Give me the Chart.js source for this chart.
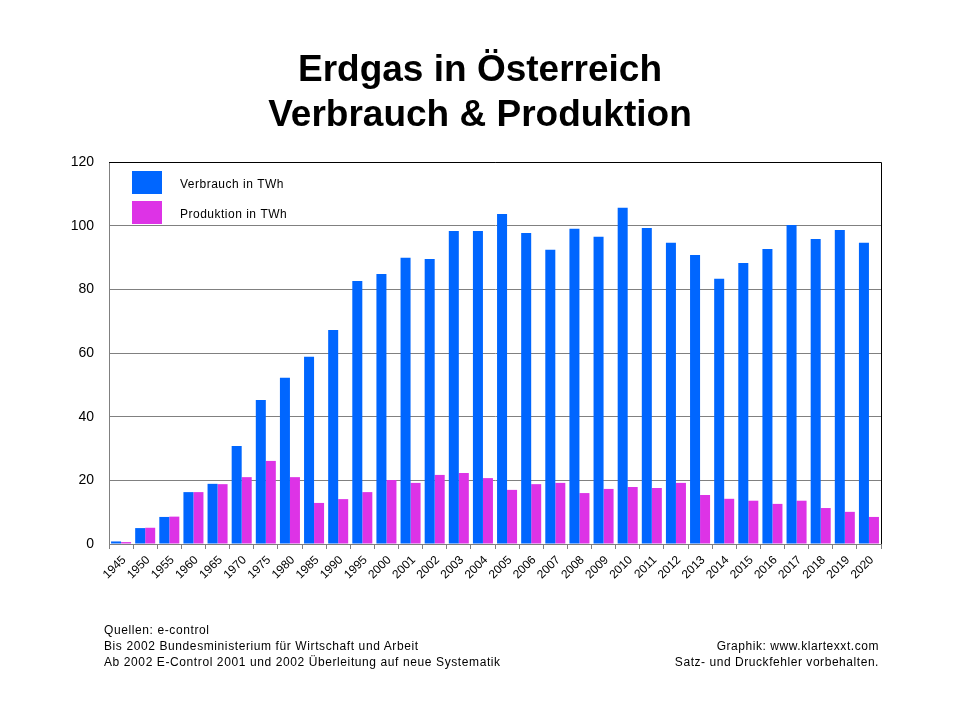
<!DOCTYPE html>
<html>
<head>
<meta charset="utf-8">
<script src="https://cdn.jsdelivr.net/npm/chart.js@4/dist/chart.umd.min.js"></script>
<style>
  html,body{margin:0;padding:0;background:#fff;}
  #wrap{position:relative;width:960px;height:720px;font-family:"Liberation Sans",Arial,sans-serif;}
  #c{position:absolute;left:0;top:0;}
  .title{position:absolute;left:0;width:960px;text-align:center;font-weight:bold;font-size:37px;color:#000;}
  .foot{position:absolute;font-size:12px;color:#000;line-height:16px;}
</style>
</head>
<body>
<div id="wrap">
  <canvas id="c" width="960" height="720"></canvas>
  <div class="title" style="top:48px;">Erdgas in Österreich</div>
  <div class="title" style="top:93px;">Verbrauch &amp; Produktion</div>
  <div class="foot" style="left:104px;top:622px;letter-spacing:0.6px;">Quellen: e-control<br>Bis 2002 Bundesministerium für Wirtschaft und Arbeit<br>Ab 2002 E-Control 2001 und 2002 Überleitung auf neue Systematik</div>
  <div class="foot" style="right:81px;top:638px;text-align:right;letter-spacing:0.55px;">Graphik: www.klartexxt.com<br>Satz- und Druckfehler vorbehalten.</div>
</div>
<script>
const years = ["1945","1950","1955","1960","1965","1970","1975","1980","1985","1990","1995","2000","2001","2002","2003","2004","2005","2006","2007","2008","2009","2010","2011","2012","2013","2014","2015","2016","2017","2018","2019","2020"];
const verbrauch = [0.8,5.0,8.5,16.3,18.9,30.8,45.2,52.2,58.8,67.2,82.6,84.8,89.9,89.5,98.3,98.3,103.7,97.7,92.4,99.0,96.5,105.6,99.3,94.6,90.8,83.3,88.3,92.7,100.2,95.8,98.6,94.6];
const produktion = [0.6,5.1,8.6,16.3,18.8,21.0,26.1,21.0,12.9,14.1,16.3,20.1,19.2,21.7,22.3,20.7,17.0,18.8,19.2,16.0,17.3,17.9,17.6,19.2,15.4,14.2,13.6,12.6,13.6,11.3,10.1,8.5];
const seriesLabels = ["Verbrauch in TWh","Produktion in TWh"];
const yTicks = [0,20,40,60,80,100,120];

const frameAndLegend = {
  id:'frameAndLegend',
  afterDraw(chart){
    const ctx = chart.ctx, a = chart.chartArea;
    ctx.save();
    ctx.strokeStyle = '#000'; ctx.lineWidth = 1;
    ctx.beginPath();
    ctx.moveTo(a.left, a.top+0.5); ctx.lineTo(a.right+0.5, a.top+0.5);
    ctx.lineTo(a.right+0.5, a.bottom);
    ctx.stroke();
    // legend
    chart.data.datasets.forEach((ds,i)=>{
      const y = a.top + 9 + i*30;
      ctx.fillStyle = ds.backgroundColor;
      ctx.fillRect(a.left+23, y, 30, 23);
      ctx.fillStyle = '#000';
      ctx.font = '12px "Liberation Sans", Arial, sans-serif';
      if ('letterSpacing' in ctx) ctx.letterSpacing = '0.5px';
      ctx.textBaseline = 'middle';
      ctx.fillText(ds.label, a.left+71, y+14);
    });
    ctx.restore();
  }
};

new Chart(document.getElementById('c'), {
  type:'bar',
  data:{
    labels: years,
    datasets:[
      {label:seriesLabels[0], data:verbrauch, backgroundColor:'#0066ff', barPercentage:1.0, categoryPercentage:0.83},
      {label:seriesLabels[1], data:produktion, backgroundColor:'#dd33e6', barPercentage:1.0, categoryPercentage:0.83}
    ]
  },
  options:{
    responsive:false,
    animation:false,
    layout:{padding:{left:0,right:79,top:162,bottom:0}},
    plugins:{legend:{display:false}, title:{display:false}, tooltip:{enabled:false}},
    scales:{
      x:{
        grid:{display:true, drawOnChartArea:false, drawTicks:true, tickLength:5, color:'#808080', offset:true},
        border:{color:'#808080'},
        ticks:{color:'#000', font:{family:'"Liberation Sans", Arial, sans-serif', size:12}, maxRotation:45, minRotation:45, autoSkip:false, padding:4, labelOffset:3},
        afterFit(s){ s.height = 176; }
      },
      y:{
        min:0, max:120,
        afterBuildTicks(s){ s.ticks = yTicks.map(v=>({value:v})); },
        grid:{color:'#808080', drawTicks:false},
        border:{color:'#808080'},
        ticks:{color:'#000', font:{family:'"Liberation Sans", Arial, sans-serif', size:14}, padding:15},
        afterFit(s){ s.width = 109; }
      }
    }
  },
  plugins:[frameAndLegend]
});
</script>
</body>
</html>
